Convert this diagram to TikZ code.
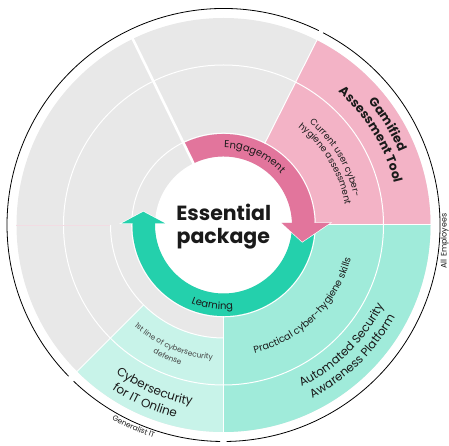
\documentclass[tikz,border=0pt]{standalone}
\usepackage{fontspec}
\setmainfont{Poppins}
\usetikzlibrary{decorations.text}
\definecolor{cgray}{HTML}{E8E8E8}
\definecolor{cpinkl}{HTML}{F3B3C6}
\definecolor{cpinkd}{HTML}{E2759C}
\definecolor{cmint}{HTML}{A0EBDA}
\definecolor{cmintl}{HTML}{C8F3E9}
\definecolor{cgreen}{HTML}{24D0AC}
\definecolor{ctext}{HTML}{1A1A1A}
\definecolor{csoft}{HTML}{444444}
\definecolor{cfaint}{HTML}{F2DCE3}
\newcommand\annsec[5]{\fill[#1] (#2:#4pt) arc[start angle=#2, end angle=#3, radius=#4pt] -- (#3:#5pt) arc[start angle=#3, end angle=#2, radius=#5pt] -- cycle;}
% #1 radius, #2 start angle, #3 end angle, #4 font size, #5 extra format, #6 colour, #7 text
\newcommand\arctxt[7]{\path[decorate, decoration={text along path, text align=center, text color=#6, text={|\fontsize{#4}{#4}\selectfont#5|#7}}] (#2:#1pt) arc[start angle=#2, end angle=#3, radius=#1pt];}
\tikzset{
  whiteline/.style={draw=white, line width=1pt},
  thickwhite/.style={draw=white, line width=2.6pt},
  blackarc/.style={draw=black, line width=0.8pt},
  headstroke/.style={draw=white, line width=1.3pt, line join=miter},
}
\begin{document}
\begin{tikzpicture}[x=1pt,y=1pt]
\useasboundingbox (-223.5pt,-221pt) rectangle (225.5pt,225pt);
% background disk
\fill[cgray] (0,0) circle[radius=207pt];
% coloured sectors
\annsec{cpinkl}{0}{63.2}{91}{207}
\annsec{cmint}{-90}{0}{91}{207}
\annsec{cmintl}{-135}{-90}{113}{207}
% rings
\draw[whiteline] (0,0) circle[radius=160pt];
\draw[whiteline] (0,0) circle[radius=91.8pt];
\draw[whiteline] (180:113pt) arc[start angle=180, end angle=270, radius=113pt];
% radial dividers
\draw[whiteline] (63.2:91pt) -- (63.2:207.5pt);
\draw[whiteline] (0:91pt) -- (0:207.5pt);
\draw[whiteline] (-90:91pt) -- (-90:207.5pt);
\draw[whiteline] (-135:113pt) -- (-135:207.5pt);
\draw[draw=cfaint, line width=0.7pt] (180:113pt) -- (180:207pt);
% centre disk
\fill[white] (0,0) circle[radius=68.5pt];
% green arrow (Learning)
\coordinate (gh1) at (-101.8pt,1.7pt);
\coordinate (gh2) at (-58.5pt,1.7pt);
\coordinate (gh3) at (-80.2pt,13.3pt);
\fill[cgreen, headstroke] (gh1) -- (gh3) -- (gh2) -- cycle;
\annsec{cgreen}{0}{-183}{68.5}{91}
\fill[cgreen] (gh1) -- (gh3) -- (gh2) -- cycle;
% pink arrow (Engagement)
\coordinate (ph1) at (58.2pt,2pt);
\coordinate (ph2) at (106.5pt,2pt);
\coordinate (ph3) at (-12:80.5pt);
\fill[cpinkd, headstroke] (ph1) -- (ph3) -- (ph2) -- cycle;
\annsec{cpinkd}{116}{0}{68.5}{91}
\fill[cpinkd] (ph1) -- (ph3) -- (ph2) -- cycle;
% thick divider
\draw[thickwhite] (116:68pt) -- (116:208pt);
% centre title
\node[anchor=base, inner sep=0pt, text=ctext, font=\bfseries\fontsize{20.5}{20.5}\selectfont] (ess) at (0.2pt,4.3pt) {Essential};
\node[anchor=base, inner sep=0pt, text=ctext, font=\bfseries\fontsize{20.5}{20.5}\selectfont] (pkg) at (-0.2pt,-18.3pt) {package};
% arrow labels
\arctxt{77}{110.5}{20.5}{10}{}{ctext}{Engagement}
\arctxt{84.5}{-138}{-58}{10}{}{ctext}{Learning}
% pink sector
\arctxt{133.5}{71}{-9}{9}{}{ctext}{Current user cyber-}
\arctxt{123}{71}{-9}{9}{}{ctext}{hygiene assessment}
\arctxt{190}{61.5}{1.5}{12.5}{\bfseries}{ctext}{Gamified}
\arctxt{175.5}{61.5}{1.5}{12.5}{\bfseries}{ctext}{Assessment Tool}
% mint sector
\arctxt{131.7}{-90}{-1}{9.7}{}{ctext}{Practical cyber-hygiene skills}
\arctxt{179.5}{-80}{-11}{11.8}{}{ctext}{Automated Security}
\arctxt{194.5}{-80}{-11}{11.8}{}{ctext}{Awareness Platform}
% light mint sector
\arctxt{135}{-143}{-83}{7.5}{}{csoft}{1st line of cybersecurity}
\arctxt{146}{-143}{-83}{7.5}{}{csoft}{defense}
\arctxt{183}{-140}{-86}{12}{}{ctext}{Cybersecurity}
\arctxt{198.5}{-140}{-88}{12}{}{ctext}{for IT Online}
% outer audience arcs
\draw[blackarc] (63.9:216.5pt) arc[start angle=63.9, end angle=224.3, radius=216.5pt];
\draw[blackarc] (62.6:216.5pt) arc[start angle=62.6, end angle=-89.2, radius=216.5pt];
\draw[blackarc] (-90.9:216.5pt) arc[start angle=-90.9, end angle=-133.8, radius=216.5pt];
\node[rotate=90, anchor=base, inner sep=0pt, text=ctext, font=\fontsize{8}{8}\selectfont] (allemp) at (223pt,-16pt) {All Employees};
\arctxt{224}{-130}{-98}{7.5}{}{ctext}{Generalist IT}
\end{tikzpicture}
\end{document}
